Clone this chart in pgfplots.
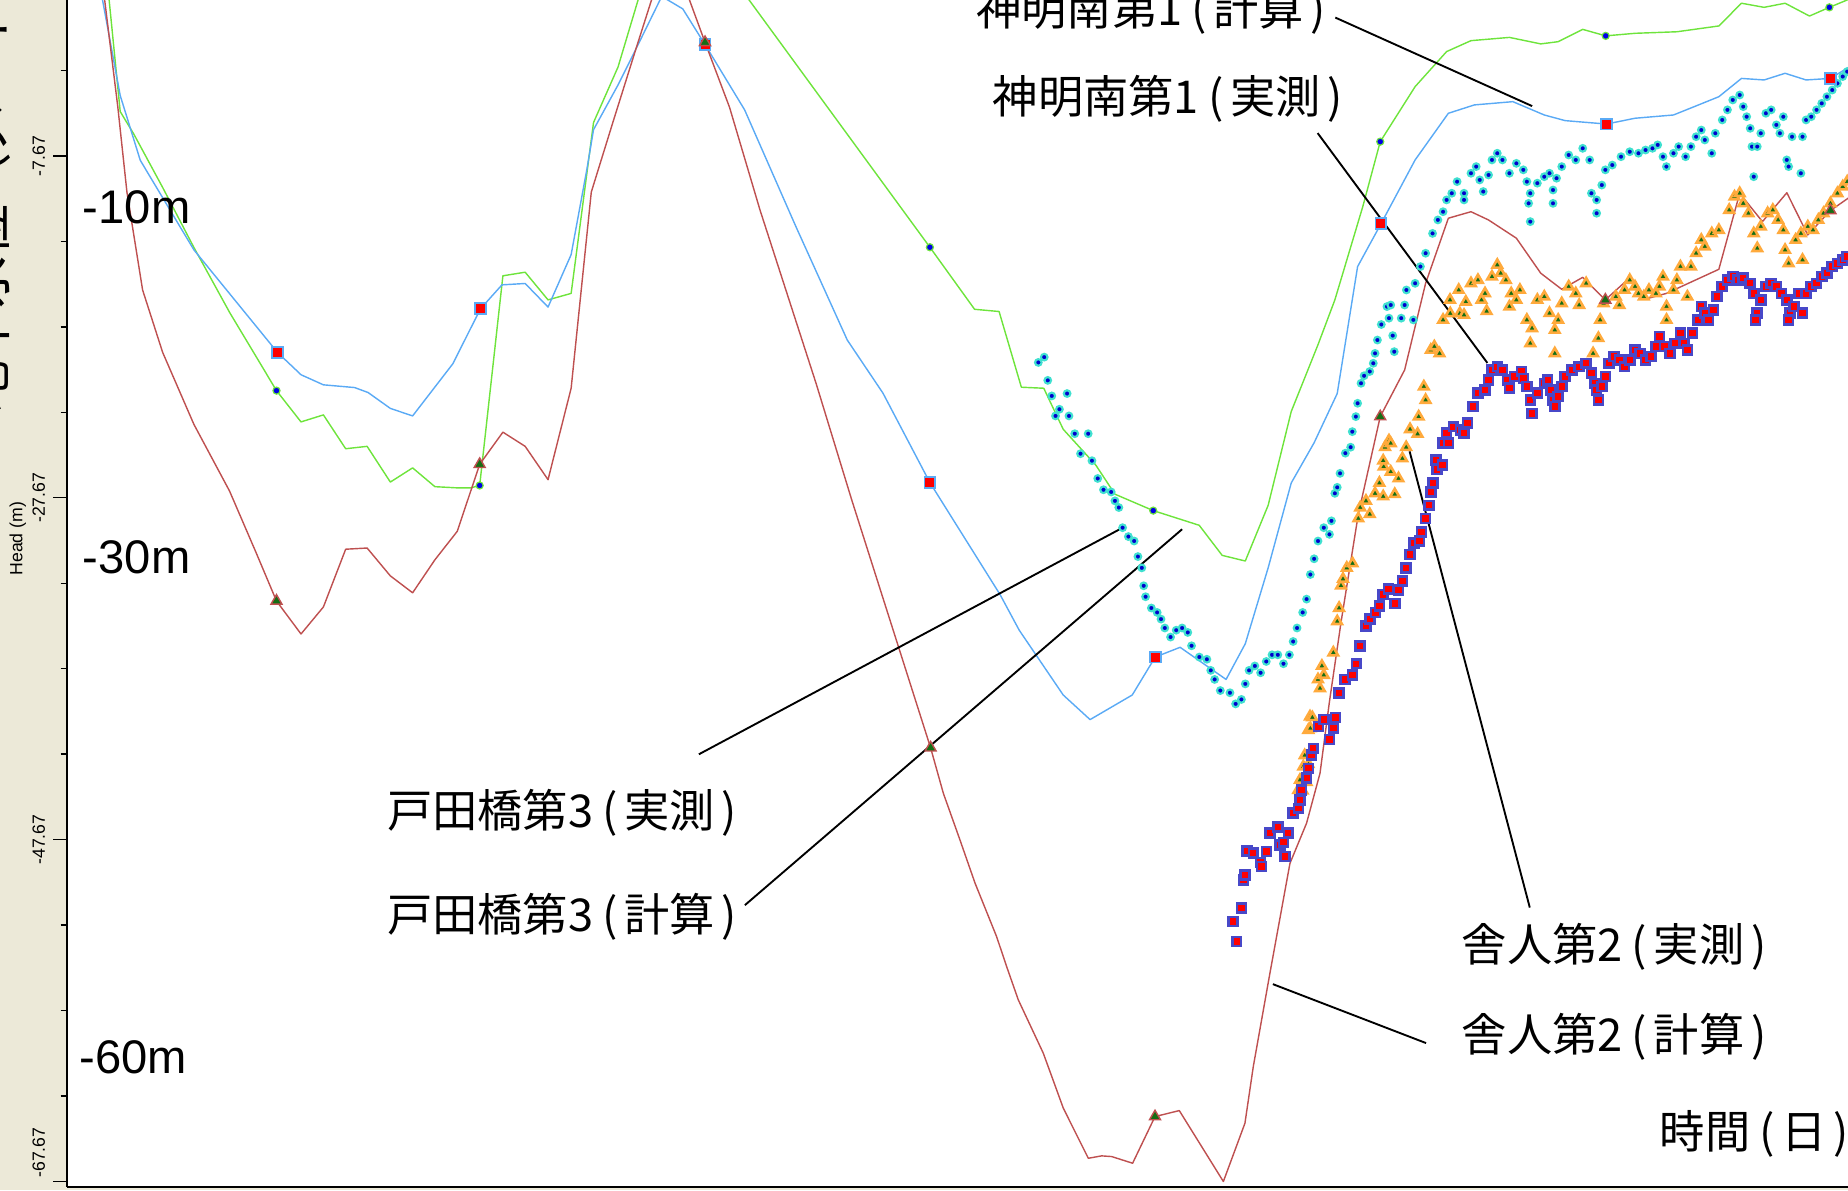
\documentclass[border=0pt]{standalone}
\usepackage{fontspec}
\setmainfont{Liberation Sans}
\newfontfamily\jp{Noto Sans CJK JP}
\usepackage{pgfplots}
\pgfplotsset{compat=1.18}
\usetikzlibrary{backgrounds,calc}

\definecolor{panel}{RGB}{236,233,216}
\definecolor{calcgreen}{RGB}{110,228,60}
\definecolor{calcblue}{RGB}{90,170,245}
\definecolor{calcred}{RGB}{190,80,80}
\definecolor{obscyan}{RGB}{64,224,208}
\definecolor{obsdot}{RGB}{0,0,205}
\definecolor{obsedge}{RGB}{72,72,200}
\definecolor{obsorange}{RGB}{255,170,60}
\definecolor{obsgreen}{RGB}{20,110,20}
\definecolor{mkblue}{RGB}{0,0,230}

% spaced round brackets for the Japanese labels
\newcommand\lpar{\kern0.2em(\kern0.15em}
\newcommand\rpar{\kern0.15em)}

\begin{document}
\begin{tikzpicture}
\begin{axis}[
  name=ax,
  scale only axis,
  width=755.5pt, height=503.5pt,
  xmin=57, xmax=1568,
  ymin=-67.99, ymax=1.46,
  axis x line*=bottom, axis y line*=left,
  axis line style={line width=0.9pt, black},
  xtick=\empty,
  ytick={-67.67,-47.67,-27.67,-7.67},
  yticklabels={,,,},
  minor ytick={-62.67,-57.67,-52.67,-42.67,-37.67,-32.67,-22.67,-17.67,-12.67,-2.67},
  tick align=outside,
  major tick length=6pt, minor tick length=2.8pt,
  tick style={black, line width=0.6pt},
  clip=false,
]
% corners of the drawn area
\coordinate (bl) at (axis cs:0,-68.2);
\coordinate (tr) at (axis cs:1568,1.46);

% 戸田橋第3 (計算)
\addplot[calcgreen, line width=0.6pt, line join=round] coordinates {
(88,2.84) (92.6,1.46) (102,-5.07) (113.4,-6.37) (138,-9.51) (164.5,-13.02) (194.8,-16.82)
(234.6,-21.40) (255.4,-23.23) (274.4,-22.82) (293.3,-24.80) (311.5,-24.66) (331.2,-26.75)
(350.1,-25.92) (369,-27.02) (388,-27.09) (399.4,-27.09) (407,-26.95) (426.7,-14.68)
(445.6,-14.47) (465,-16.09) (484.6,-15.71) (503.6,-5.71) (524.4,-2.46) (541.4,1.46)
(565,6.98) (598,5.01) (635.6,1.46) (789,-13.01) (826.9,-16.64) (847.7,-16.77) (866.6,-21.20)
(885.6,-21.26) (902.1,-23.66) (929.8,-25.76) (946,-27.46) (978.5,-28.42) (1017.5,-29.28)
(1037,-31.04) (1056.6,-31.37) (1076,-28.11) (1095.6,-22.62) (1118.3,-18.71) (1132.6,-16.09)
(1156.3,-10.63) (1171.1,-6.83) (1200.7,-3.61) (1227.4,-1.56) (1248.1,-0.92) (1280.7,-0.73)
(1307.3,-1.11) (1322.1,-0.98) (1342.9,-0.26) (1362.4,-0.64) (1387.3,-0.49) (1422.8,-0.40)
(1458.4,-0.06) (1477.6,1.27) (1496.8,1.03) (1514.6,1.27) (1535.3,0.52) (1552.2,1.03)
(1567.3,1.46) (1580,2.01)
};
% 神明南第1 (計算)
\addplot[calcblue, line width=0.6pt, line join=round] coordinates {
(84,2.84) (87,1.46) (102,-4.13) (119,-7.92) (164.5,-13.16) (235.4,-19.16) (255.4,-20.47)
(274.4,-21.06) (300.9,-21.22) (312.3,-21.51) (331.2,-22.44) (350.1,-22.88) (384.2,-19.83)
(407.7,-16.61) (425.9,-15.21) (445.6,-15.13) (465,-16.51) (484.6,-13.44) (497.9,-8.47)
(503.6,-6.13) (524.4,-3.51) (539.5,-1.42) (561.5,1.67) (579.3,0.94) (598.2,-1.15)
(631.8,-4.97) (675.3,-11.80) (718.9,-18.44) (749.2,-21.55) (789,-26.78) (848.5,-33.33)
(864.8,-35.42) (902.1,-39.21) (924.9,-40.65) (960.7,-39.21) (980.2,-36.99) (1001.3,-36.42)
(1040.3,-38.30) (1056.6,-36.21) (1076,-31.77) (1095.6,-26.80) (1115,-24.45) (1134.6,-21.57)
(1151.9,-14.14) (1171.7,-11.64) (1200.7,-7.90) (1228.9,-5.17) (1251,-4.68) (1283.6,-4.49)
(1310.3,-5.27) (1328,-5.60) (1363,-5.80) (1387.3,-5.46) (1419.9,-5.27) (1437.6,-4.78)
(1458.4,-4.20) (1477.6,-3.13) (1496.8,-3.22) (1514.6,-2.83) (1532.4,-3.22) (1553.1,-3.13)
(1580,-1.99)
};
% 舎人第2 (計算)
\addplot[calcred, line width=0.6pt, line join=round] coordinates {
(85,2.84) (88.8,1.46) (100,-4.82) (107.7,-9.78) (121,-15.51) (138,-19.16) (164.5,-23.37)
(194.8,-27.28) (217.6,-30.93) (234.6,-33.71) (255.4,-35.64) (274.4,-34.06) (293.3,-30.68)
(311.5,-30.61) (331.2,-32.24) (350.1,-33.23) (369,-31.30) (388,-29.63) (407,-25.71)
(426.7,-23.83) (445.6,-24.66) (465,-26.61) (484.6,-21.26) (501.7,-9.78) (520.6,-5.57)
(539.5,-1.42) (552.8,1.46) (568,3.53) (585,1.46) (598.2,-1.02) (619,-4.82) (644.8,-10.82)
(692.4,-20.97) (722.7,-27.80) (789.6,-42.30) (800.4,-44.96) (814.5,-47.69) (827.3,-50.22)
(845.6,-53.35) (854.1,-55.10) (864,-57.05) (885.2,-60.17) (902.2,-63.39) (923.4,-66.32)
(934.7,-66.18) (943.2,-66.22) (961,-66.61) (980,-63.88) (1000.6,-63.53) (1038,-67.68)
(1056.3,-64.27) (1063.4,-60.95) (1077.5,-55.49) (1094.5,-49.06) (1108.6,-46.71)
(1120,-43.79) (1128,-39.60) (1138,-34.88) (1152.5,-28.63) (1171.1,-22.92) (1191.8,-20.19)
(1209.6,-15.12) (1228.9,-11.31) (1248.1,-10.93) (1262.9,-11.41) (1286.6,-12.48)
(1307.3,-14.53) (1325.1,-15.47) (1342.9,-14.77) (1362.1,-16.09) (1381.4,-14.88)
(1398.8,-15.99) (1413.9,-15.71) (1458.4,-14.30) (1476.1,-9.85) (1495.4,-11.51)
(1516.1,-9.82) (1533.8,-12.29) (1553.1,-10.86) (1580,-9.57)
};

% 戸田橋第3 (実測)
\addplot[only marks, mark=*, mark size=1.4pt, mark options={fill=obsdot, draw=obscyan, line width=0.9pt}] coordinates {
(881,-19.75) (886,-19.44) (889,-20.80) (892.4,-21.71) (895.6,-22.88) (898.9,-22.49)
(905.4,-21.57) (907,-22.88) (911.9,-23.92) (916.8,-25.09) (923.3,-23.92) (926.5,-25.50)
(931.4,-26.54) (936.3,-27.20) (942.8,-27.33) (946,-27.85) (949.3,-28.24) (952.5,-29.42)
(957.4,-29.94) (962.3,-30.20) (965.5,-31.11) (968.8,-31.77) (970.4,-32.82) (972,-33.46)
(976.9,-34.12) (981.8,-34.38) (985.1,-34.77) (988.3,-35.29) (993.2,-35.82) (998,-35.42)
(1003,-35.29) (1007.8,-35.55) (1011,-36.33) (1017.6,-36.99) (1024,-37.12) (1027.3,-37.77)
(1030.6,-38.30) (1035.4,-38.95) (1043.6,-39.08) (1048.4,-39.73) (1053.3,-39.47)
(1056.6,-38.56) (1059.8,-37.77) (1064.7,-37.51) (1069.6,-37.91) (1074.4,-37.25)
(1079.3,-36.86) (1084.2,-36.86) (1089,-37.38) (1094,-36.86) (1097.2,-36.08) (1100.5,-35.29)
(1105.3,-34.38) (1108.6,-33.60) (1111.8,-32.16) (1115,-31.24) (1118.3,-30.20)
(1123.2,-29.42) (1128,-29.81) (1129.7,-29.02) (1132.6,-27.41) (1134.6,-27.06) (1137,-26.24)
(1141.5,-25.06) (1146,-24.71) (1147.4,-23.80) (1150.4,-22.92) (1151.9,-22.14)
(1154.8,-20.97) (1157.4,-20.53) (1162.2,-20.28) (1165.2,-19.80) (1166.7,-19.22)
(1168.7,-18.44) (1172,-17.53) (1176.8,-16.48) (1178.5,-17.16) (1180,-16.39) (1181.7,-18.18)
(1183,-19.12) (1188.9,-17.16) (1191.8,-16.39) (1193.3,-15.51) (1199.2,-17.26)
(1200.7,-15.12) (1205.2,-14.14) (1209.6,-13.36) (1215.5,-12.20) (1220,-11.41)
(1224.4,-10.93) (1227.4,-10.24) (1231.8,-9.85) (1236.3,-9.17) (1242.2,-9.85) (1242.2,-10.24)
(1248.1,-8.68) (1252.5,-8.29) (1255.5,-9.07) (1258.5,-9.75) (1263,-8.78) (1265.9,-7.90)
(1270.4,-7.51) (1274.8,-7.90) (1280.7,-8.68) (1286.6,-8.10) (1292.5,-8.48) (1295.5,-9.17)
(1298.4,-9.85) (1297,-10.44) (1298.4,-11.51) (1304.4,-9.26) (1310.3,-8.88) (1314.7,-8.68)
(1320.7,-8.97) (1317.7,-9.66) (1317.7,-10.44) (1325.1,-8.29) (1331,-7.61) (1337,-7.90)
(1342.9,-7.22) (1348.8,-7.90) (1350.3,-9.85) (1354.7,-10.24) (1354.7,-11.02) (1359.1,-9.37)
(1362.1,-8.48) (1368,-8.20) (1375.4,-7.71) (1382.8,-7.42) (1390.2,-7.51) (1396.2,-7.32)
(1402.1,-7.22) (1406.5,-7.02) (1411,-7.71) (1413.9,-8.29) (1419.9,-7.51) (1424.3,-7.12)
(1430.2,-7.71) (1434.7,-7.12) (1439.1,-6.54) (1443.5,-6.15) (1446.5,-6.73) (1452.4,-7.51)
(1455.4,-6.34) (1461.3,-5.56) (1465.7,-4.97) (1470.2,-4.39) (1476.1,-4.10) (1479.1,-4.78)
(1482,-5.37) (1485,-6.05) (1486.5,-7.12) (1488,-8.88) (1491,-7.12) (1494,-6.34)
(1498.3,-5.17) (1502.8,-4.97) (1507.2,-5.85) (1510.2,-6.34) (1513.1,-5.37) (1516,-7.90)
(1517.6,-8.29) (1520.5,-6.54) (1528,-8.68) (1529.4,-6.54) (1532.4,-5.56) (1536.8,-5.37)
(1541.3,-4.97) (1545.7,-4.59) (1550.1,-4.20) (1554.6,-3.81) (1559,-3.42) (1563.5,-3.02)
(1567.3,-2.73)
};
% 舎人第2 (実測)
\addplot[only marks, mark=triangle*, mark size=2.3pt, mark options={fill=obsgreen, draw=obsorange, line width=1.1pt}] coordinates {
(1101.6,-44.77) (1103,-44.18) (1105.3,-44.81) (1105.8,-43.40) (1107,-42.74) (1108.6,-44.31)
(1110.1,-41.26) (1110.2,-43.26) (1111.5,-40.47) (1111.8,-41.16) (1113.5,-40.52)
(1118.3,-38.30) (1120,-38.82) (1121.6,-37.51) (1123.2,-38.04) (1131.3,-36.73)
(1134.6,-34.90) (1136.2,-34.12) (1137.8,-32.81) (1139.5,-32.42) (1142.7,-31.77)
(1147.6,-31.51) (1152.5,-28.88) (1154.1,-28.24) (1159,-27.85) (1162.2,-28.63)
(1166.7,-27.41) (1170.4,-26.80) (1173.6,-27.59) (1174,-25.85) (1173.6,-25.50)
(1175.2,-24.71) (1178.5,-24.32) (1180,-26.15) (1180,-24.48) (1183.4,-27.46) (1186.6,-26.54)
(1189.9,-25.37) (1193.1,-24.71) (1196.4,-23.66) (1202.8,-23.93) (1203.7,-22.92)
(1208.1,-21.16) (1209.6,-21.95) (1214,-19.02) (1217,-18.82) (1221.4,-19.22) (1224.4,-17.26)
(1230.3,-16.09) (1230.5,-16.88) (1237.7,-15.51) (1238.6,-16.88) (1242.2,-16.97)
(1243.7,-16.20) (1248.1,-15.12) (1254,-14.93) (1257,-16.09) (1260,-15.71) (1261.4,-16.75)
(1265.9,-14.73) (1270.4,-14.04) (1273.3,-14.53) (1277.7,-14.93) (1280.7,-16.48)
(1282.2,-15.71) (1286.6,-16.09) (1289.6,-15.51) (1295.5,-17.26) (1298.4,-18.63)
(1299.9,-17.75) (1304.4,-16.09) (1310.3,-15.90) (1314.7,-16.87) (1319.2,-17.85)
(1319.2,-19.22) (1322.1,-17.26) (1325.1,-16.29) (1331,-15.31) (1337,-15.71) (1339.9,-16.39)
(1345.8,-15.12) (1351.7,-19.22) (1356.2,-18.33) (1357.7,-17.26) (1360.6,-16.29)
(1371,-15.90) (1374,-16.39) (1378.4,-15.51) (1382.8,-14.93) (1387.3,-15.31) (1390.2,-15.71)
(1394.7,-15.90) (1399.1,-15.51) (1405,-15.71) (1408,-15.31) (1411,-14.73) (1414,-16.48)
(1414,-17.26) (1419.9,-15.51) (1422.8,-14.93) (1425.8,-14.14) (1431.7,-15.90)
(1434.7,-14.14) (1439.1,-13.36) (1443.5,-12.58) (1446.5,-12.97) (1452.4,-12.20)
(1458.4,-12.00) (1467.2,-10.83) (1471.7,-10.05) (1476.1,-9.85) (1479.1,-10.44)
(1483.5,-11.02) (1488,-12.20) (1491,-13.07) (1494,-11.80) (1499.8,-11.02) (1504.2,-10.83)
(1508.7,-11.41) (1513.1,-12.00) (1514.6,-13.17) (1517.6,-13.95) (1523.5,-12.58)
(1528,-12.20) (1529.4,-13.75) (1533.9,-11.80) (1538.3,-12.00) (1542.8,-11.41)
(1547.2,-11.02) (1553.1,-10.44) (1559,-9.85) (1563.5,-9.46) (1567.3,-9.17)
};
% 神明南第1 (実測)
\addplot[only marks, mark=square*, mark size=1.9pt, mark options={fill=red, draw=obsedge, line width=1.1pt}] coordinates {
(1046.4,-52.47) (1049.3,-53.64) (1053.5,-51.69) (1055,-50.03) (1056.3,-49.74) (1058.2,-48.35)
(1063.4,-48.47) (1069.6,-49.01) (1070.5,-49.25) (1074.7,-48.37) (1077.5,-47.30)
(1084.2,-46.92) (1086,-47.99) (1089,-47.83) (1090.3,-48.66) (1093.1,-47.30) (1097.3,-46.13)
(1101.6,-45.84) (1103,-45.35) (1104.4,-44.77) (1108.7,-44.08) (1110.1,-43.50)
(1112.9,-42.72) (1114.3,-42.33) (1118.6,-41.06) (1123.2,-40.65) (1128,-41.82)
(1131.3,-41.16) (1133,-40.52) (1136.2,-39.08) (1141,-38.30) (1147.6,-38.04) (1150.8,-37.38)
(1154,-36.33) (1159,-35.16) (1162.2,-34.77) (1167.1,-34.38) (1170.4,-33.99) (1173.6,-33.33)
(1178,-33.02) (1183.4,-33.86) (1186.6,-33.07) (1189.9,-32.55) (1193.1,-31.77)
(1196.4,-30.98) (1199.6,-30.33) (1204.5,-30.20) (1206.1,-29.68) (1209.4,-28.88)
(1212.6,-28.11) (1214.2,-27.33) (1215.9,-26.80) (1218.5,-25.46) (1219.1,-26.02)
(1224.4,-24.48) (1224,-25.75) (1227.4,-23.89) (1229,-24.45) (1233.3,-23.51) (1239.2,-23.70)
(1242.2,-23.89) (1245.1,-23.28) (1249.6,-22.33) (1254,-21.55) (1260,-21.36) (1262.9,-20.77)
(1265.9,-20.19) (1270.4,-20.00) (1274.8,-20.19) (1279.2,-20.77) (1280.7,-21.26)
(1285.1,-20.58) (1291,-20.28) (1292.5,-20.68) (1295.5,-21.16) (1298.4,-21.95)
(1299.9,-22.73) (1304.4,-21.55) (1310.3,-20.97) (1313.2,-20.77) (1316.2,-21.36)
(1317.7,-21.95) (1319.2,-22.33) (1322.1,-21.75) (1325.1,-21.16) (1328,-20.58) (1334,-20.19)
(1339.9,-20.00) (1345.8,-19.80) (1350.3,-20.38) (1353.2,-20.97) (1354.7,-21.36)
(1356.2,-21.95) (1359.1,-21.16) (1362.1,-20.58) (1365.1,-19.80) (1369.5,-19.41)
(1374,-19.60) (1378.4,-20.00) (1382.8,-19.60) (1387.3,-19.02) (1391.7,-19.22)
(1396.2,-19.60) (1400.6,-19.41) (1405,-18.82) (1408,-18.24) (1412.4,-18.82) (1416.9,-19.22)
(1421.3,-18.63) (1425.8,-18.04) (1428.7,-18.63) (1431.7,-19.02) (1436.1,-18.04)
(1440.6,-17.26) (1443.5,-16.48) (1446.5,-16.87) (1449.5,-17.26) (1453.9,-16.68)
(1456.9,-15.90) (1461.3,-15.31) (1465.7,-14.93) (1470.2,-14.73) (1474.6,-14.93)
(1479.1,-14.82) (1485,-15.12) (1488,-15.71) (1491,-16.87) (1489.4,-17.26) (1494,-16.09)
(1498.3,-15.31) (1502.8,-15.12) (1507.2,-15.31) (1511.6,-15.71) (1516.1,-16.09)
(1519,-16.87) (1517.6,-17.26) (1522,-16.48) (1526.5,-15.71) (1529.4,-16.87) (1532.4,-15.71)
(1536.8,-15.31) (1541.3,-15.12) (1545.7,-14.73) (1550.1,-14.53) (1554.6,-14.14)
(1559,-13.95) (1563.5,-13.75) (1567.3,-13.56)
};

% output times of the computed heads
\addplot[only marks, mark=*, mark size=1.5pt, mark options={fill=mkblue, draw=calcgreen, line width=0.5pt}] coordinates {
(234.6,-21.40) (407,-26.95) (789,-13.01) (978.5,-28.42) (1171.1,-6.83) (1362.4,-0.64) (1552.2,1.03)
};
\addplot[only marks, mark=square*, mark size=2.3pt, mark options={fill=red, draw=calcblue, line width=0.8pt}] coordinates {
(235.4,-19.16) (407.7,-16.61) (598.2,-1.15) (789,-26.78) (980.2,-36.99) (1171.7,-11.64) (1363,-5.80) (1553.1,-3.13)
};
\addplot[only marks, mark=triangle*, mark size=2.7pt, mark options={fill=obsgreen, draw=calcred, line width=0.6pt}] coordinates {
(234.6,-33.71) (407,-25.71) (598.2,-1.02) (789.6,-42.30) (980,-63.88) (1171.1,-22.92) (1362.1,-16.09) (1553.1,-10.86)
};

% leader lines
\draw[black, line width=0.8pt] (axis cs:1133,0.43) -- (axis cs:1300,-4.75);
\draw[black, line width=0.8pt] (axis cs:1118,-6.33) -- (axis cs:1262,-19.78);
\draw[black, line width=0.8pt] (axis cs:593,-42.68) -- (axis cs:952,-29.44);
\draw[black, line width=0.8pt] (axis cs:632,-51.51) -- (axis cs:1003,-29.51);
\draw[black, line width=0.8pt] (axis cs:1298,-51.65) -- (axis cs:1196,-24.95);
\draw[black, line width=0.8pt] (axis cs:1210,-59.58) -- (axis cs:1080,-56.13);

% well labels
\begin{scope}[every node/.style={anchor=west, inner sep=0pt, font=\jp\fontsize{19.2}{22}\selectfont}]
\node at (axis cs:828,0.84) {神明南第1\lpar 計算\rpar};
\node at (axis cs:842,-4.33) {神明南第1\lpar 実測\rpar};
\node at (axis cs:328,-46.13) {戸田橋第3\lpar 実測\rpar};
\node at (axis cs:328,-52.20) {戸田橋第3\lpar 計算\rpar};
\node at (axis cs:1240,-53.92) {舎人第2\lpar 実測\rpar};
\node at (axis cs:1240,-59.23) {舎人第2\lpar 計算\rpar};
\node at (axis cs:1408,-64.88) {時間\lpar 日\rpar};
\end{scope}
\begin{scope}[every node/.style={anchor=west, inner sep=0pt, font=\fontsize{20}{22}\selectfont}]
\node at (axis cs:70,-10.68) {-10m};
\node at (axis cs:70,-31.13) {-30m};
\node at (axis cs:67,-60.41) {-60m};
\end{scope}

% head scale in the left panel
\begin{scope}[every node/.style={rotate=90, inner sep=0pt, font=\fontsize{7.5}{8}\selectfont}]
\node at (axis cs:33,-7.67) {-7.67};
\node at (axis cs:33,-27.67) {-27.67};
\node at (axis cs:33,-47.67) {-47.67};
\node at (axis cs:33,-65.99) {-67.67};
\node at (axis cs:15,-30.06) {Head (m)};
\end{scope}
\node[rotate=90, anchor=west, inner sep=0pt, font=\jp\fontsize{22}{24}\selectfont] at (axis cs:-12,-22.68) {地下水位（メートル）};
\end{axis}
\begin{scope}[on background layer]
\fill[panel] (bl) rectangle (ax.north west);
\fill[panel] (bl) rectangle (ax.south east);
\end{scope}
\pgfresetboundingbox
\useasboundingbox (bl) rectangle (tr);
\end{tikzpicture}
\end{document}
